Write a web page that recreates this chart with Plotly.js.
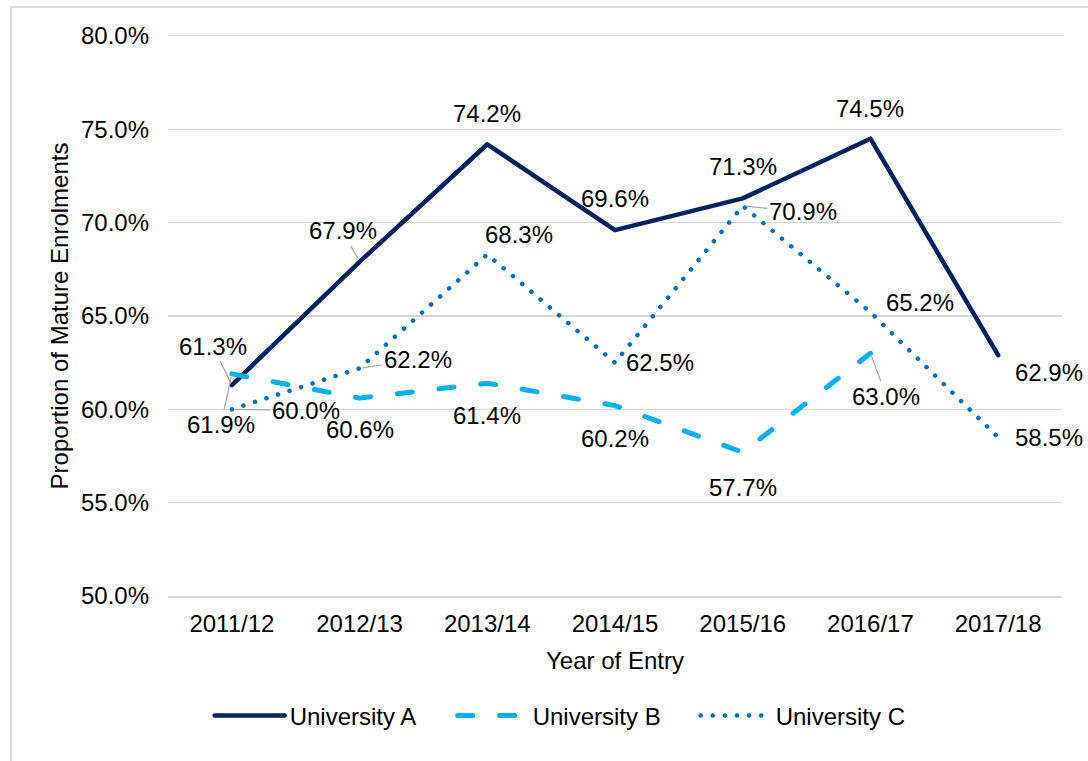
<!DOCTYPE html>
<html>
<head>
<meta charset="utf-8">
<script src="https://cdn.plot.ly/plotly-3.0.1.min.js"></script>
<style>
  html, body { margin: 0; padding: 0; background: #ffffff; }
  #frame {
    position: absolute; left: 10px; top: 6px; width: 1100px; height: 800px;
    border: 2px solid #d9d9d9; box-sizing: border-box; background: #ffffff;
  }
  #chart { position: absolute; left: 0; top: 0; width: 1088px; height: 761px; }
  .scatterlayer .js-line, .legend .js-line { stroke-linecap: round; stroke-linejoin: round; }
</style>
</head>
<body>
<div id="frame"></div>
<div id="chart"></div>
<script>
// ---- data ----
const years = ["2011/12", "2012/13", "2013/14", "2014/15", "2015/16", "2016/17", "2017/18"];
const uniA = [61.3, 67.9, 74.2, 69.6, 71.3, 74.5, 62.9];
const uniB = [61.9, 60.6, 61.4, 60.2, 57.7, 63.0, null];
const uniC = [60.0, 62.2, 68.3, 62.5, 70.9, 65.2, 58.5];
const yTickVals = [50, 55, 60, 65, 70, 75, 80];
const yTickText = yTickVals.map(v => v.toFixed(1) + "%");

// label placement (pixel offsets from the point) and whether a leader line is drawn
const offA = [[-19, -39, true], [-17, -31, true], [0, -31, false], [0, -32, false], [0, -32, false], [0, -30, false], [51, 17, false]];
const offB = [[-11, 51, true], [0, 31, false], [0, 32, false], [0, 33, false], [0, 35, false], [16, 43, true], null];
const offC = [[74, 1, true], [58, -9, true], [32, -20, false], [45, 0, false], [60, 6, true], [50, -10, false], [51, 0, false]];

const FONT = "'Liberation Sans', Arial, sans-serif";

function labels(vals, offs){
  const out = [];
  vals.forEach((v, i) => {
    if (v === null || !offs[i]) return;
    const [ax, ay, leader] = offs[i];
    out.push({
      x: years[i], y: v, xref: "x", yref: "y",
      text: v.toFixed(1) + "%",
      showarrow: true, ax: ax, ay: ay, axref: "pixel", ayref: "pixel",
      arrowhead: 0, arrowwidth: 1.2, standoff: 3,
      arrowcolor: leader ? "#a6a6a6" : "rgba(0,0,0,0)",
      font: { family: FONT, size: 24, color: "#000000" }
    });
  });
  return out;
}

const traces = [
  { type: "scatter", mode: "lines", name: "University A", x: years, y: uniA,
    line: { color: "#002060", width: 4.5 } },
  { type: "scatter", mode: "lines", name: "University B", x: years, y: uniB,
    line: { color: "#00b0f0", width: 5, dash: "15px,27px" } },
  { type: "scatter", mode: "lines", name: "University C", x: years, y: uniC,
    line: { color: "#0070c0", width: 4.5, dash: "0.1px,12px" } }
];

const layout = {
  width: 1088, height: 761,
  margin: { l: 168, r: 26, t: 36, b: 165 },
  paper_bgcolor: "rgba(0,0,0,0)",
  plot_bgcolor: "rgba(0,0,0,0)",
  font: { family: FONT, size: 24, color: "#000000" },
  xaxis: {
    type: "category", range: [-0.5, 6.5],
    showgrid: false, zeroline: false, ticks: "",
    // axis line + mirror stand in for the 50% and 80% gridlines at the edges
    showline: true, mirror: true, linecolor: "#d9d9d9", linewidth: 1.5,
    ticklabelstandoff: 6,
    title: { text: "Year of Entry", standoff: 16, font: { family: FONT, size: 24, color: "#000000" } },
    tickfont: { family: FONT, size: 24, color: "#000000" }
  },
  yaxis: {
    range: [50, 80], tickvals: yTickVals, ticktext: yTickText,
    showgrid: true, gridcolor: "#d9d9d9", gridwidth: 1.5,
    zeroline: false, showline: false, ticks: "",
    ticklabelstandoff: 18,
    title: { text: "Proportion of Mature Enrolments", standoff: 5, font: { family: FONT, size: 24, color: "#000000" } },
    tickfont: { family: FONT, size: 24, color: "#000000" }
  },
  showlegend: true,
  legend: {
    orientation: "h", x: 0.0466, xanchor: "left", y: -0.214, yanchor: "middle",
    entrywidth: 158, entrywidthmode: "pixels", itemwidth: 70,
    font: { family: FONT, size: 24, color: "#000000" },
    bgcolor: "rgba(0,0,0,0)", traceorder: "normal"
  },
  annotations: [].concat(labels(uniA, offA), labels(uniB, offB), labels(uniC, offC))
};

Plotly.newPlot("chart", traces, layout, { displayModeBar: false, staticPlot: true });
</script>
</body>
</html>
